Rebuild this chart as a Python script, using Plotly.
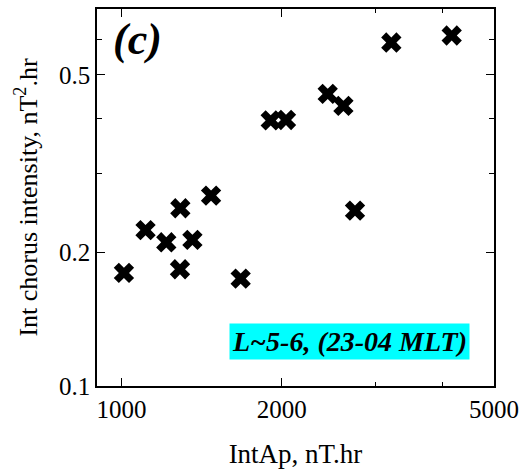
import plotly.graph_objects as go
import math

int_ap = [1011, 1110, 1214, 1290, 1288, 1359, 1473, 1674, 1906, 2036, 2438, 2609, 2743, 3209, 4165]
chorus = [0.1795, 0.224, 0.2103, 0.2508, 0.1829, 0.2129, 0.2678, 0.1743, 0.395, 0.396, 0.4531, 0.4258, 0.2477, 0.591, 0.613]

x_major = [1000, 2000, 5000]
x_minor = [3000, 4000]
y_major = [0.1, 0.2, 0.5]
y_minor = [0.3, 0.4, 0.6]

FONT = "Liberation Serif"

fig = go.Figure()
fig.add_trace(go.Scatter(
    x=int_ap, y=chorus, mode="markers",
    marker=dict(symbol="x", size=18, color="black", line=dict(width=0)),
    showlegend=False,
))

axis_common = dict(
    type="log", showgrid=False, zeroline=False, automargin=False,
    showline=True, linecolor="black", linewidth=1.5, mirror="allticks",
    ticks="inside", ticklen=8, tickwidth=1, tickcolor="black",
    tickfont=dict(family=FONT, size=25, color="black"),
)

fig.update_layout(
    width=532, height=469,
    margin=dict(l=97, r=38, t=9, b=83),
    paper_bgcolor="white", plot_bgcolor="white",
    xaxis=dict(
        **axis_common,
        range=[math.log10(900), math.log10(5000)],
        tickmode="array", tickvals=x_major, ticktext=[str(v) for v in x_major],
        minor=dict(tickmode="array", tickvals=x_minor, ticks="inside", ticklen=4, tickcolor="black"),
        title=dict(text="IntAp, nT.hr", font=dict(family=FONT, size=27, color="black"), standoff=22),
    ),
    yaxis=dict(
        **axis_common,
        range=[-1, math.log10(0.703)],
        tickmode="array", tickvals=y_major, ticktext=[str(v) for v in y_major],
        minor=dict(tickmode="array", tickvals=y_minor, ticks="inside", ticklen=5, tickcolor="black"),
        title=dict(text="Int chorus intensity, nT<sup>2</sup>.hr", font=dict(family=FONT, size=26, color="black"), standoff=14),
    ),
    annotations=[
        dict(text="<b><i>(c)</i></b>", xref="paper", yref="paper",
             x=0.035, y=0.99, xanchor="left", yanchor="top", showarrow=False,
             font=dict(family=FONT, size=44, color="black")),
        dict(text="<b><i>L~5-6, (23-04 MLT)</i></b>", xref="paper", yref="paper",
             x=0.94, y=0.07, xanchor="right", yanchor="bottom", showarrow=False,
             bgcolor="#00FFFF", borderpad=2,
             font=dict(family=FONT, size=28, color="black")),
    ],
)

fig.write_html("out.html")
